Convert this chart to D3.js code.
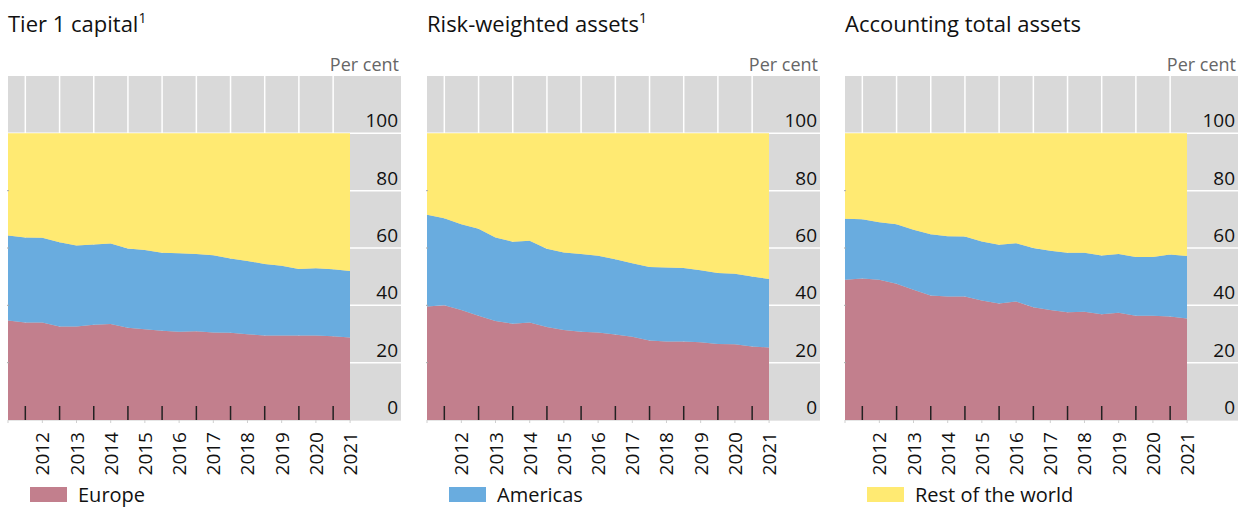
<!DOCTYPE html>
<html>
<head>
<meta charset="utf-8">
<script src="https://cdn.jsdelivr.net/npm/d3@7"></script>
<style>
  body { margin: 0; background: #fff; }
  svg { font-family: 'Open Sans', sans-serif; }
  .title { font-size: 22px; fill: #111; }
  .unit { font-size: 18px; fill: #666; }
  .y-label { font-size: 19px; fill: #111; }
  .x-label { font-size: 19px; fill: #111; }
  .legend-label { font-size: 20px; fill: #111; }
</style>
</head>
<body>
<div id="chart"></div>
<script>
// Half-year observation dates
const periods = ['2011-06-30','2011-12-31','2012-06-30','2012-12-31','2013-06-30','2013-12-31',
  '2014-06-30','2014-12-31','2015-06-30','2015-12-31','2016-06-30','2016-12-31','2017-06-30',
  '2017-12-31','2018-06-30','2018-12-31','2019-06-30','2019-12-31','2020-06-30','2020-12-31','2021-06-30'];

const yearLabels = ['2012','2013','2014','2015','2016','2017','2018','2019','2020','2021'];
const yTicks = [0, 20, 40, 60, 80, 100];

const seriesNames = ['Europe', 'Americas', 'Rest of the world'];
const seriesColors = ['#c27f8d', '#69acdf', '#ffea72'];

// Tier 1 capital, shares in per cent
const tier1Europe = [34.7,34.0,34.0,32.6,32.6,33.2,33.5,32.2,31.7,31.1,30.8,31.0,30.5,30.4,29.9,29.5,29.5,29.5,29.5,29.2,28.8];
const tier1Americas = [29.7,29.7,29.6,29.4,28.3,28.0,28.1,27.6,27.6,27.2,27.4,26.9,27.0,25.9,25.6,24.9,24.3,23.2,23.4,23.4,23.2];
const tier1Rest = [35.6,36.3,36.4,38.0,39.1,38.8,38.4,40.2,40.7,41.7,41.8,42.1,42.5,43.7,44.5,45.6,46.2,47.3,47.1,47.4,48.0];

// Risk-weighted assets
const rwaEurope = [39.6,40.0,38.4,36.4,34.5,33.6,34.0,32.4,31.4,30.8,30.5,29.8,29.0,27.7,27.4,27.4,27.1,26.5,26.4,25.6,25.3];
const rwaAmericas = [32.0,30.4,29.9,30.3,29.2,28.6,28.5,27.3,27.0,27.1,26.8,26.3,25.7,25.7,25.8,25.6,25.1,24.8,24.6,24.5,23.9];
const rwaRest = [28.4,29.6,31.7,33.3,36.3,37.8,37.5,40.3,41.6,42.1,42.7,43.9,45.3,46.6,46.8,47.0,47.8,48.7,49.0,49.9,50.8];

// Accounting total assets
const taEurope = [48.9,49.4,48.9,47.5,45.4,43.4,43.1,43.1,41.7,40.6,41.3,39.3,38.4,37.6,37.8,36.9,37.4,36.4,36.4,36.1,35.4];
const taAmericas = [21.3,20.6,20.1,20.8,21.0,21.4,21.0,20.9,20.6,20.5,20.4,20.7,20.6,20.7,20.5,20.5,20.5,20.5,20.5,21.6,21.8];
const taRest = [29.8,30.0,31.0,31.7,33.6,35.2,35.9,36.0,37.7,38.9,38.3,40.0,41.0,41.7,41.7,42.6,42.1,43.1,43.1,42.3,42.8];

const panels = [
  {title: 'Tier 1 capital', sup: '1', series: [tier1Europe, tier1Americas, tier1Rest], legend: 0},
  {title: 'Risk-weighted assets', sup: '1', series: [rwaEurope, rwaAmericas, rwaRest], legend: 1},
  {title: 'Accounting total assets', sup: '', series: [taEurope, taAmericas, taRest], legend: 2}
];

class StackedPanel {

  constructor(_config, data) {
    this.config = {
      parent: _config.parent,
      left: _config.left,
      plotWidth: 342,     // width covered by the data
      bgWidth: 393,       // grey background incl. label strip
      top: 76,
      bottom: 420
    };
    this.data = data;
    this.initVis();
  }

  initVis() {
    let vis = this;
    const c = vis.config;

    vis.g = c.parent.append('g')
        .attr('transform', `translate(${c.left},0)`);

    vis.xScale = d3.scaleTime()
        .domain([new Date(periods[0]), new Date(periods[periods.length - 1])])
        .range([0, c.plotWidth]);

    vis.yScale = d3.scaleLinear()
        .domain([0, 120])
        .range([c.bottom, c.top]);

    vis.stack = d3.stack().keys([0, 1, 2]);

    vis.area = d3.area()
        .x(d => vis.xScale(d.data.date))
        .y0(d => vis.yScale(d[0]))
        .y1(d => vis.yScale(d[1]));

    vis.updateVis();
  }

  updateVis() {
    let vis = this;
    vis.rows = periods.map((p, i) => {
      const r = {date: new Date(p)};
      vis.data.series.forEach((s, k) => r[k] = s[i]);
      return r;
    });
    vis.stacked = vis.stack(vis.rows);
    vis.yearStarts = yearLabels.map(y => new Date(`${y}-01-01`));
    vis.yearMids = yearLabels.map(y => new Date(`${y}-07-01`));
    vis.renderVis();
  }

  renderVis() {
    let vis = this;
    const c = vis.config;

    // grey plot background
    vis.g.append('rect')
        .attr('x', 0).attr('y', c.top)
        .attr('width', c.bgWidth).attr('height', c.bottom - c.top)
        .attr('fill', '#d9d9d9');

    // white gridlines
    vis.g.selectAll('.hgrid')
        .data(yTicks.filter(d => d > 0))
      .enter().append('line')
        .attr('x1', 0).attr('x2', c.bgWidth)
        .attr('y1', d => vis.yScale(d)).attr('y2', d => vis.yScale(d))
        .attr('stroke', '#fff').attr('stroke-width', 1.5);

    vis.g.selectAll('.vgrid')
        .data(vis.yearStarts)
      .enter().append('line')
        .attr('x1', d => vis.xScale(d)).attr('x2', d => vis.xScale(d))
        .attr('y1', c.top).attr('y2', c.bottom)
        .attr('stroke', '#fff').attr('stroke-width', 1.5);

    // stacked areas
    vis.g.selectAll('.layer')
        .data(vis.stacked)
      .enter().append('path')
        .attr('class', 'layer')
        .attr('fill', d => seriesColors[d.key])
        .attr('d', vis.area);

    // bottom axis line with minor ticks
    vis.g.append('line')
        .attr('x1', 0).attr('x2', c.bgWidth)
        .attr('y1', c.bottom + 0.5).attr('y2', c.bottom + 0.5)
        .attr('stroke', '#e6e6e6');

    vis.g.selectAll('.minor-tick')
        .data([new Date(periods[0])].concat(vis.yearMids))
      .enter().append('line')
        .attr('x1', d => vis.xScale(d)).attr('x2', d => vis.xScale(d))
        .attr('y1', c.bottom).attr('y2', c.bottom + 3)
        .attr('stroke', '#cfcfcf');

    // left axis little ticks
    vis.g.selectAll('.ltick')
        .data(yTicks.filter(d => d > 0 && d < 100))
      .enter().append('line')
        .attr('x1', -1).attr('x2', 1)
        .attr('y1', d => vis.yScale(d)).attr('y2', d => vis.yScale(d))
        .attr('stroke', '#aaa');

    // black year ticks
    vis.g.selectAll('.year-tick')
        .data(vis.yearStarts)
      .enter().append('line')
        .attr('x1', d => vis.xScale(d)).attr('x2', d => vis.xScale(d))
        .attr('y1', c.bottom - 14).attr('y2', c.bottom)
        .attr('stroke', '#222').attr('stroke-width', 1.5);

    // year labels, rotated
    vis.g.selectAll('.x-label')
        .data(yearLabels)
      .enter().append('text')
        .attr('class', 'x-label')
        .attr('transform', (d, i) => `translate(${vis.xScale(vis.yearMids[i]) + 7},${c.bottom + 12}) rotate(-90)`)
        .attr('text-anchor', 'end')
        .text(d => d);

    // y labels on the right
    vis.g.selectAll('.y-label')
        .data(yTicks)
      .enter().append('text')
        .attr('class', 'y-label')
        .attr('x', c.bgWidth - 3)
        .attr('y', d => vis.yScale(d) - 6)
        .attr('text-anchor', 'end')
        .text(d => d);

    vis.g.append('text')
        .attr('class', 'unit')
        .attr('x', c.bgWidth - 2).attr('y', 71)
        .attr('text-anchor', 'end')
        .text('Per cent');

    // title
    const title = vis.g.append('text')
        .attr('class', 'title')
        .attr('x', 0).attr('y', 32)
        .text(vis.data.title);
    if (vis.data.sup) {
      title.append('tspan')
          .attr('dy', -9)
          .style('font-size', '14px')
          .text(vis.data.sup);
    }

    // legend entry
    const k = vis.data.legend;
    vis.g.append('rect')
        .attr('x', 22).attr('y', 487)
        .attr('width', 37).attr('height', 15)
        .attr('fill', seriesColors[k]);
    vis.g.append('text')
        .attr('class', 'legend-label')
        .attr('x', 70).attr('y', 502)
        .text(seriesNames[k]);
  }
}

const svg = d3.select('#chart').append('svg')
    .attr('width', 1249)
    .attr('height', 507);

const lefts = [8, 427, 845];
panels.forEach((p, i) => new StackedPanel({parent: svg, left: lefts[i]}, p));
</script>
</body>
</html>
